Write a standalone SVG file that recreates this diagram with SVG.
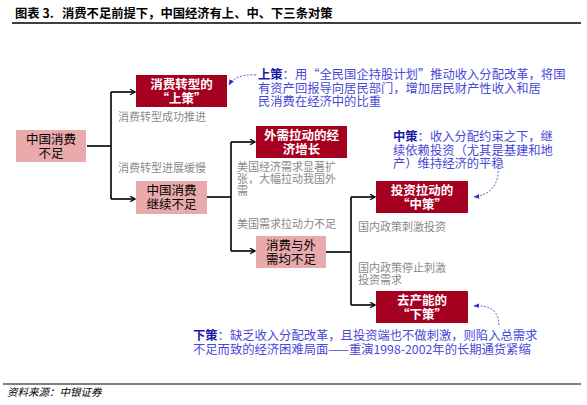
<svg xmlns="http://www.w3.org/2000/svg" width="587" height="405" viewBox="0 0 587 405">
<defs>
<style>
text{font-family:"Noto Sans CJK SC","Liberation Sans",sans-serif;}
.title{font-size:12.3px;font-weight:bold;fill:#000;}
.foot{font-size:10.5px;font-style:italic;fill:#000;}
.dark rect{fill:#A5001F;}
.dark text{fill:#fff;font-size:12.5px;font-weight:bold;text-anchor:middle;}
.pink rect{fill:#E8AAAA;}
.pink text{fill:#000;font-size:12.5px;text-anchor:middle;}
.lbl{fill:#8A8A8A;font-size:11px;}
.note{fill:#4848D8;font-size:12.3px;}
.b{fill:#1A1AA8;font-weight:bold;}
.conn{fill:none;stroke:#000;stroke-width:1.6;}
.dash{fill:none;stroke:#5050D0;stroke-width:0.9;stroke-dasharray:2,1.5;}
</style>
<marker id="ah" viewBox="0 0 10 10" refX="9" refY="5" markerWidth="7" markerHeight="7" markerUnits="userSpaceOnUse" orient="auto">
<path d="M2,1 L9,5 L2,9" fill="none" stroke="#000" stroke-width="1.8"/>
</marker>
<marker id="bh" viewBox="0 0 10 10" refX="9" refY="5" markerWidth="6" markerHeight="6" markerUnits="userSpaceOnUse" orient="auto">
<path d="M0,1 L10,5 L0,9 z" fill="#3030C0"/>
</marker>
</defs>
<rect width="587" height="405" fill="#fff"/>
<text class="title" x="15" y="18">图表 3.<tspan x="62">消费不足前提下，中国经济有上、中、下三条对策</tspan></text>
<line x1="12" y1="23" x2="581" y2="23" stroke="#000" stroke-width="1.5"/>
<line x1="3" y1="384" x2="581" y2="384" stroke="#000" stroke-width="1.2"/>
<text class="foot" x="7" y="396">资料来源：中银证券</text>

<g id="connectors">
<polyline class="conn" points="87,146 111,146"/>
<polyline class="conn" points="111,92 111,199"/>
<line class="conn" x1="111" y1="92" x2="135" y2="92" marker-end="url(#ah)"/>
<line class="conn" x1="111" y1="199" x2="135" y2="199" marker-end="url(#ah)"/>
<polyline class="conn" points="207,197 231,197"/>
<polyline class="conn" points="231,142 231,251"/>
<line class="conn" x1="231" y1="142" x2="255" y2="142" marker-end="url(#ah)"/>
<line class="conn" x1="231" y1="251" x2="255" y2="251" marker-end="url(#ah)"/>
<polyline class="conn" points="326,252 351,252"/>
<polyline class="conn" points="351,197 351,305"/>
<line class="conn" x1="351" y1="197" x2="375" y2="197" marker-end="url(#ah)"/>
<line class="conn" x1="351" y1="305" x2="375" y2="305" marker-end="url(#ah)"/>
<path class="dash" d="M256,75 C242,74 233,78 229,85" marker-end="url(#bh)"/>
<path class="dash" d="M498,164 C500,185 490,195 474,197" marker-end="url(#bh)"/>
<path class="dash" d="M499,325 C498,310 490,305 474,306" marker-end="url(#bh)"/>
</g>

<g id="n-root" class="pink"><rect x="16" y="130" width="70" height="32"/><text x="51" y="144">中国消费<tspan x="51" dy="14">不足</tspan></text></g>
<g id="n-upper" class="dark"><rect x="136" y="75" width="91" height="32"/><text x="181.5" y="89">消费转型的<tspan x="181.5" dy="14">“上策”</tspan></text></g>
<g id="n-cont" class="pink"><rect x="136" y="181" width="71" height="33"/><text x="171.5" y="195">中国消费<tspan x="171.5" dy="14">继续不足</tspan></text></g>
<g id="n-ext" class="dark"><rect x="256" y="126" width="91" height="32"/><text x="301.5" y="140">外需拉动的经<tspan x="301.5" dy="14">济增长</tspan></text></g>
<g id="n-both" class="pink"><rect x="256" y="236" width="70" height="32"/><text x="291" y="250">消费与外<tspan x="291" dy="14">需均不足</tspan></text></g>
<g id="n-mid" class="dark"><rect x="376" y="181" width="92" height="32"/><text x="422" y="195">投资拉动的<tspan x="422" dy="14">“中策”</tspan></text></g>
<g id="n-low" class="dark"><rect x="376" y="291" width="92" height="32"/><text x="422" y="305">去产能的<tspan x="422" dy="14">“下策”</tspan></text></g>

<g id="labels">
<text class="lbl" x="118" y="121">消费转型成功推进</text>
<text class="lbl" x="118" y="172">消费转型进展缓慢</text>
<text class="lbl" x="237" y="171">美国经济需求显著扩<tspan x="237" dy="12">张，大幅拉动我国外</tspan><tspan x="237" dy="12">需</tspan></text>
<text class="lbl" x="237" y="228">美国需求拉动力不足</text>
<text class="lbl" x="358" y="231">国内政策刺激投资</text>
<text class="lbl" x="358" y="272">国内政策停止刺激<tspan x="358" dy="12">投资需求</tspan></text>
</g>

<g id="note-upper">
<text class="note" x="258" y="79"><tspan class="b">上策</tspan>：用“全民国企持股计划”推动收入分配改革，将国<tspan x="258" dy="13.5">有资产回报导向居民部门，增加居民财产性收入和居</tspan><tspan x="258" dy="13.5">民消费在经济中的比重</tspan></text>
</g>
<g id="note-mid">
<text class="note" x="393" y="141"><tspan class="b">中策</tspan>：收入分配约束之下，继<tspan x="393" dy="13.5">续依赖投资（尤其是基建和地</tspan><tspan x="393" dy="13.5">产）维持经济的平稳</tspan></text>
</g>
<g id="note-low">
<text class="note" x="193" y="340"><tspan class="b">下策</tspan>：缺乏收入分配改革，且投资端也不做刺激，则陷入总需求<tspan x="193" dy="13.5">不足而致的经济困难局面——重演1998-2002年的长期通货紧缩</tspan></text>
</g>
</svg>
